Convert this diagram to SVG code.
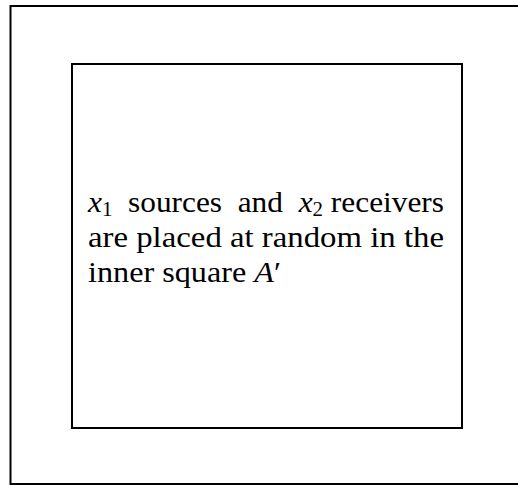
<svg xmlns="http://www.w3.org/2000/svg" width="518" height="485" viewBox="0 0 518 485">
<style>
.box{fill:none;stroke:#000;stroke-width:2}
.t{font-family:"Liberation Serif","Times New Roman",serif;font-size:30px;fill:#000;white-space:pre}
.i{font-style:italic}
.sub{font-size:20px}
</style>
<rect width="518" height="485" fill="#fff"/>
<g id="outer"><rect class="box" x="10.5" y="6" width="520" height="478"/></g>
<g id="inner"><rect class="box" x="72" y="64" width="390" height="364"/>
<text class="t" x="88" y="212" textLength="356" lengthAdjust="spacingAndGlyphs"><tspan class="i">x</tspan><tspan class="sub" dy="4">1</tspan><tspan dy="-4">  sources  and  </tspan><tspan class="i">x</tspan><tspan class="sub" dy="4">2</tspan><tspan dy="-4"> receivers</tspan></text>
<text class="t" x="88" y="247" textLength="356" lengthAdjust="spacingAndGlyphs">are placed at random in the</text>
<text class="t" x="88" y="282" textLength="193" lengthAdjust="spacingAndGlyphs">inner square <tspan class="i">A</tspan>′</text>
</g>
</svg>
